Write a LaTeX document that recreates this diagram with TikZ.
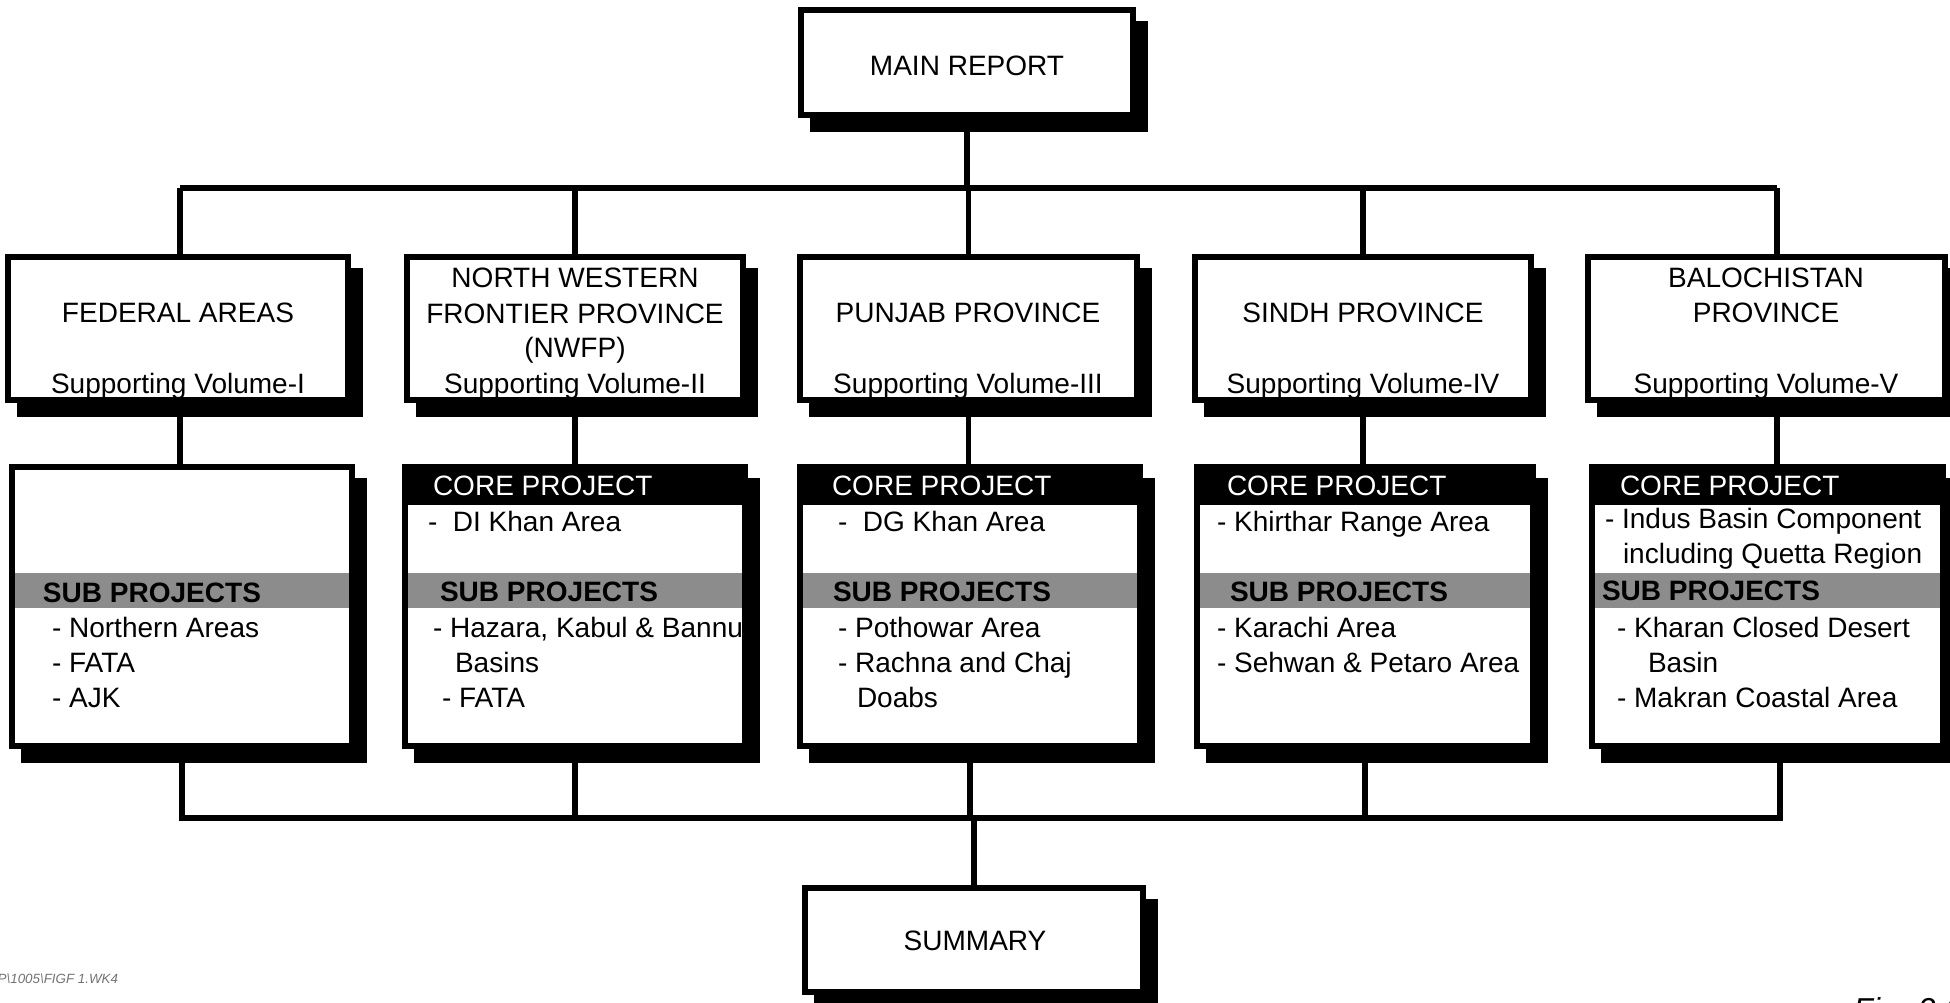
\documentclass[tikz,border=0pt]{standalone}
\usepackage{fontspec}
\setmainfont{Liberation Sans}
\usetikzlibrary{shadows,calc,fit}
\begin{document}
\begin{tikzpicture}[x=0.01cm,y=-0.01cm,
  box/.style={draw=black, line width=1.5pt, fill=white, inner sep=0pt, outer sep=0pt,
    general shadow={fill=black, draw=black, line width=1.5pt, shadow xshift=0.12cm, shadow yshift=-0.14cm}},
  lab/.style={inner sep=0pt, outer sep=0pt, font=\fontsize{7.97}{9.96}\selectfont, anchor=base},
  item/.style={lab, anchor=base west},
  core/.style={item, text=white},
  subhead/.style={item, font=\fontsize{7.97}{9.96}\selectfont\bfseries},
  conn/.style={line width=1.5pt},
  band/.style={fill=black!45},
  border/.style={line width=1.5pt},
]
\useasboundingbox[fill=white] (0,0) rectangle (1950,1003);

% ---------- boxes ----------
\node[box, fit={(801,10) (1133,115)}] (main) {};
\node[box, fit={(8,257) (348,400)}] (r1a) {};
\node[box, fit={(407,257) (743,400)}] (r1b) {};
\node[box, fit={(800,257) (1137,400)}] (r1c) {};
\node[box, fit={(1195,257) (1531,400)}] (r1d) {};
\node[box, fit={(1588,257) (1945,400)}] (r1e) {};
\node[box, fit={(12,467) (352,746)}] (r2a) {};
\node[box, fit={(405,467) (745,746)}] (r2b) {};
\node[box, fit={(800,467) (1140,746)}] (r2c) {};
\node[box, fit={(1197,467) (1533,746)}] (r2d) {};
\node[box, fit={(1592,467) (1943,746)}] (r2e) {};
\node[box, fit={(805,888) (1143,992)}] (sum) {};

% ---------- header and sub-project bands ----------
\foreach \b in {r2b,r2c,r2d,r2e}{
  \fill (\b.north west) rectangle ($(\b.north east)+(0,38)$);
}
\foreach \b in {r2a,r2b,r2c,r2d,r2e}{
  \fill[band] ($(\b.north west)+(0,106)$) rectangle ($(\b.north east)+(0,141)$);
  \draw[border] (\b.north west) rectangle (\b.south east);
}

% ---------- connectors ----------
\coordinate (busL) at (180,188);
\coordinate (busR) at (1777,188);
\draw[conn] (main.south) -- (main.south |- busL);
\draw[conn] (busL) -- (busR);
\draw[conn] (busL) -- (busL |- r1a.north);
\draw[conn] (r1b.north) -- (r1b.north |- busL);
\draw[conn] (r1c.north) -- (r1c.north |- busL);
\draw[conn] (r1d.north) -- (r1d.north |- busL);
\draw[conn] (busR) -- (busR |- r1e.north);

\draw[conn] (r1a.south -| busL) -- (r2a.north -| busL);
\draw[conn] (r1b.south) -- (r1b.south |- r2b.north);
\draw[conn] (r1c.south) -- (r1c.south |- r2c.north);
\draw[conn] (r1d.south) -- (r1d.south |- r2d.north);
\draw[conn] (r1e.south -| busR) -- (r2e.north -| busR);

\coordinate (bbL) at (182,818);
\coordinate (bbR) at (1780,818);
\draw[conn] (r2a.south -| bbL) -- (bbL) -- (bbR) -- (bbR |- r2e.south);
\draw[conn] (r2b.south) -- (r2b.south |- bbL);
\draw[conn] (r2c.south) -- (r2c.south |- bbL);
\draw[conn] (r2d.south) -- (r2d.south |- bbL);
\draw[conn] (sum.north) -- (sum.north |- bbL);

% ---------- top and bottom texts ----------
\node[lab] (tmain) at (967,75) {MAIN REPORT};
\node[lab] (tsum) at (975,950) {SUMMARY};

% ---------- row 1 texts ----------
\node[lab] (t1a1) at (178,322) {FEDERAL AREAS};
\node[lab] (t1a2) at (178,393) {Supporting Volume-I};

\node[lab] (t1b1) at (575,287) {NORTH WESTERN};
\node[lab] (t1b2) at (575,323) {FRONTIER PROVINCE};
\node[lab] (t1b3) at (575,357) {(NWFP)};
\node[lab] (t1b4) at (575,393) {Supporting Volume-II};

\node[lab] (t1c1) at (968,322) {PUNJAB PROVINCE};
\node[lab] (t1c2) at (968,393) {Supporting Volume-III};

\node[lab] (t1d1) at (1363,322) {SINDH PROVINCE};
\node[lab] (t1d2) at (1363,393) {Supporting Volume-IV};

\node[lab] (t1e1) at (1766,287) {BALOCHISTAN};
\node[lab] (t1e2) at (1766,322) {PROVINCE};
\node[lab] (t1e3) at (1766,393) {Supporting Volume-V};

% ---------- row 2 texts ----------
\node[subhead] (t2a1) at (43,602) {SUB PROJECTS};
\node[item] (t2a2) at (52,637) {- Northern Areas};
\node[item] (t2a3) at (52,672) {- FATA};
\node[item] (t2a4) at (52,707) {- AJK};

\node[core] (t2b0) at (433,495) {CORE PROJECT};
\node[item] (t2b1) at (428,531) {-\ \ DI Khan Area};
\node[subhead] (t2b2) at (440,601) {SUB PROJECTS};
\node[item] (t2b3) at (433,637) {- Hazara, Kabul \& Bannu};
\node[item] (t2b4) at (455,672) {Basins};
\node[item] (t2b5) at (442,707) {- FATA};

\node[core] (t2c0) at (832,495) {CORE PROJECT};
\node[item] (t2c1) at (838,531) {-\ \ DG Khan Area};
\node[subhead] (t2c2) at (833,601) {SUB PROJECTS};
\node[item] (t2c3) at (838,637) {- Pothowar Area};
\node[item] (t2c4) at (838,672) {- Rachna and Chaj};
\node[item] (t2c5) at (857,707) {Doabs};

\node[core] (t2d0) at (1227,495) {CORE PROJECT};
\node[item] (t2d1) at (1217,531) {- Khirthar Range Area};
\node[subhead] (t2d2) at (1230,601) {SUB PROJECTS};
\node[item] (t2d3) at (1217,637) {- Karachi Area};
\node[item] (t2d4) at (1217,672) {- Sehwan \& Petaro Area};

\node[core] (t2e0) at (1620,495) {CORE PROJECT};
\node[item] (t2e1) at (1605,528) {- Indus Basin Component};
\node[item] (t2e2) at (1623,563) {including Quetta Region};
\node[subhead] (t2e3) at (1602,600) {SUB PROJECTS};
\node[item] (t2e4) at (1617,637) {- Kharan Closed Desert};
\node[item] (t2e5) at (1648,672) {Basin};
\node[item] (t2e6) at (1617,707) {- Makran Coastal Area};

% ---------- margin notes ----------
\node[anchor=base west, inner sep=0pt, text=black!55,
  font=\fontsize{3.8}{4.5}\selectfont\itshape] (fpath) at (-3,983) {P\textbackslash 1005\textbackslash FIGF 1.WK4};
\node[anchor=base west, inner sep=0pt,
  font=\fontsize{9}{11}\selectfont\itshape] (fig) at (1853,1020) {Fig. 2.1};
\end{tikzpicture}
\end{document}
